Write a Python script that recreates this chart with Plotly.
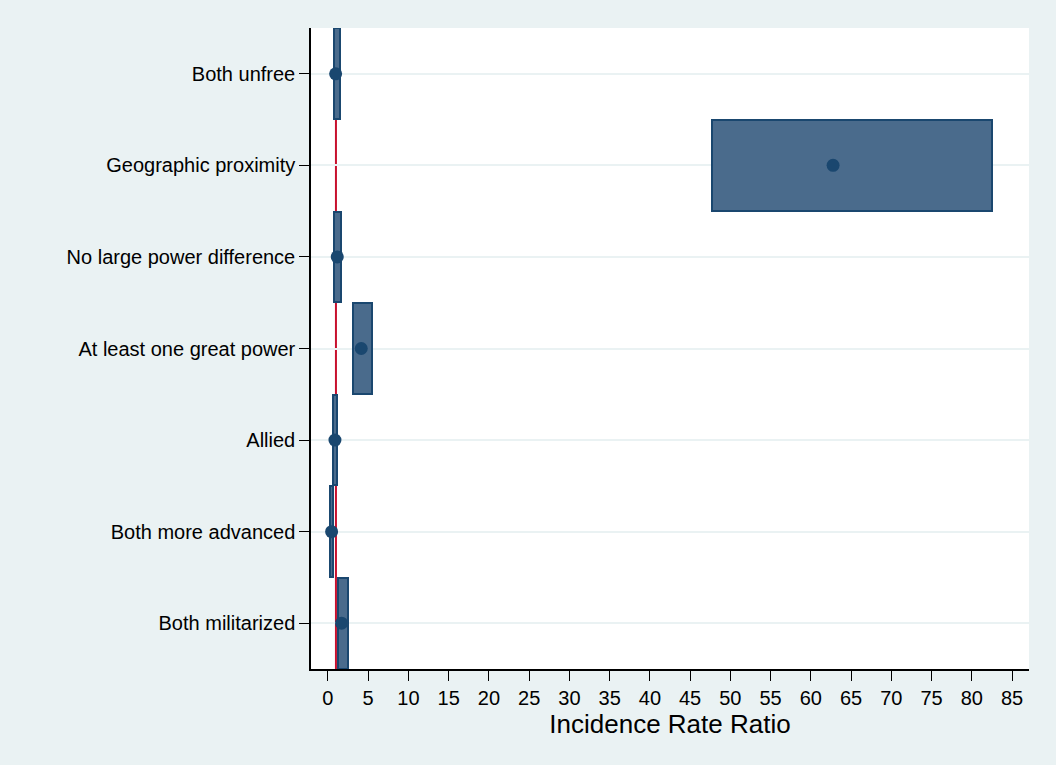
import plotly.graph_objects as go

categories = ["Both unfree", "Geographic proximity", "No large power difference",
              "At least one great power", "Allied", "Both more advanced", "Both militarized"]
irr = [0.96, 62.76, 1.16, 4.14, 0.875, 0.46, 1.70]
ci_low = [0.71, 47.7, 0.71, 3.1, 0.59, 0.3, 1.28]
ci_high = [1.45, 82.5, 1.58, 5.5, 1.16, 0.66, 2.52]
x_ticks = list(range(0, 90, 5))
ref_value = 1

BG = "#eaf2f3"
NAVY = "#1a476f"
FILL = "#4a6b8c"
FONT = "Liberation Sans, Arial, sans-serif"

fig = go.Figure()

fig.add_trace(go.Bar(
    y=categories,
    x=[h - l for l, h in zip(ci_low, ci_high)],
    base=ci_low,
    orientation="h",
    width=0.99,
    marker=dict(color=FILL, line=dict(color=NAVY, width=2)),
    showlegend=False,
    hoverinfo="skip",
))

fig.add_trace(go.Scatter(
    y=categories,
    x=irr,
    mode="markers",
    marker=dict(color=NAVY, size=13),
    showlegend=False,
))

fig.add_shape(type="line", xref="x", yref="paper", x0=ref_value, x1=ref_value,
              y0=0, y1=1, line=dict(color="#c8102e", width=2), layer="below")

fig.update_layout(
    width=1056, height=765,
    paper_bgcolor=BG, plot_bgcolor="white",
    margin=dict(l=311, r=27, t=28, b=96),
    font=dict(family=FONT, color="black", size=20),
    bargap=0,
)

fig.update_xaxes(
    range=[-2.1, 87.1],
    tickvals=x_ticks,
    ticktext=[str(v) for v in x_ticks],
    showgrid=False, zeroline=False,
    showline=True, linecolor="black", linewidth=1.5,
    ticks="outside", ticklen=10, tickcolor="black", tickwidth=1.2,
    tickfont=dict(size=20),
    title=dict(text="Incidence Rate Ratio", font=dict(size=26), standoff=0),
)

fig.update_yaxes(
    categoryorder="array", categoryarray=categories,
    autorange="reversed",
    showgrid=True, gridcolor=BG, gridwidth=2,
    zeroline=False,
    showline=True, linecolor="black", linewidth=1.5,
    ticks="outside", ticklen=10, tickcolor="black", tickwidth=1.2,
    tickfont=dict(size=20),
)

fig.write_html("out.html",
               config={"displayModeBar": False},
               post_script="document.body.style.margin='0';document.body.style.background='#eaf2f3';")
